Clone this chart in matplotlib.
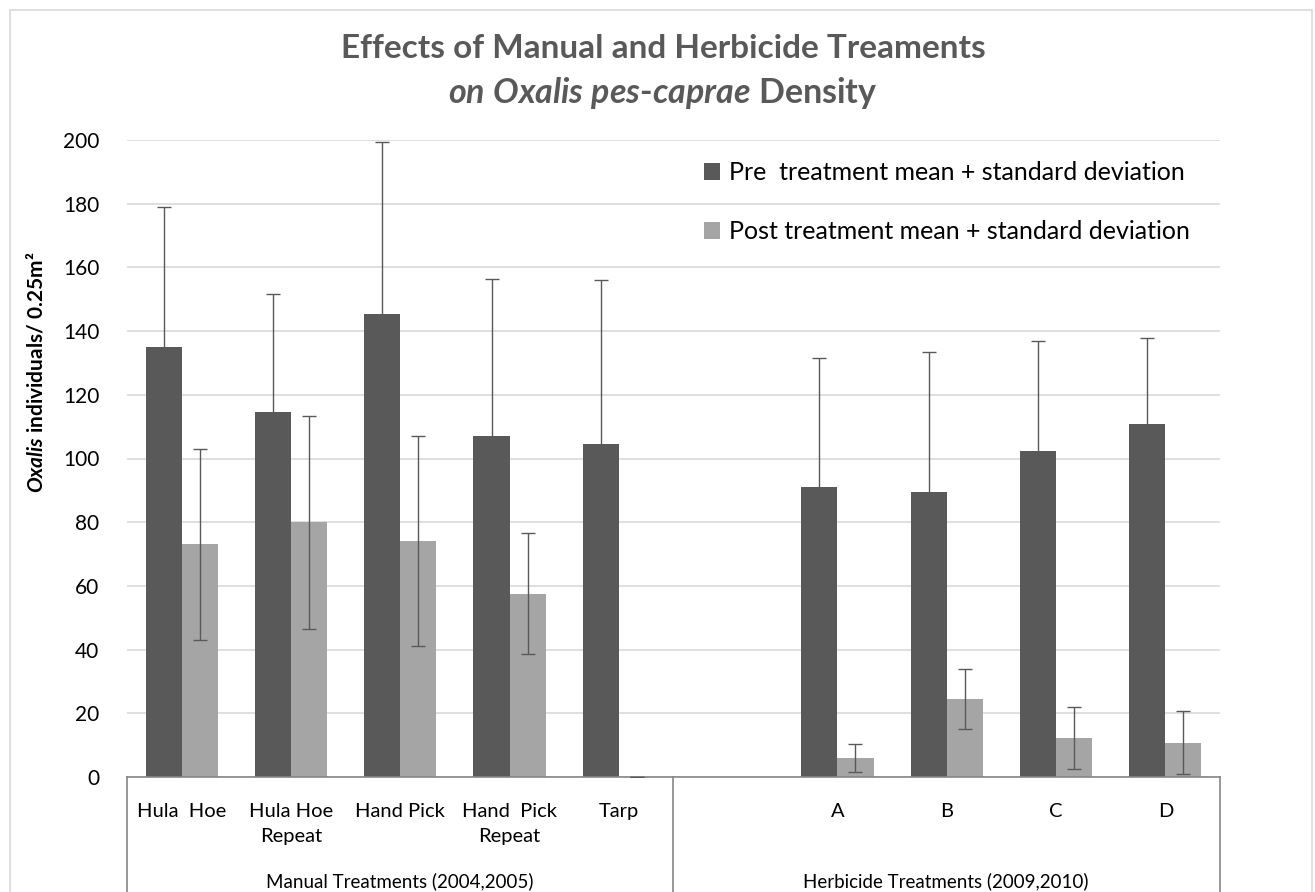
import numpy as np
import matplotlib
matplotlib.use("Agg")
import matplotlib.pyplot as plt
from matplotlib.patches import Rectangle

plt.rcParams['font.family'] = ['Lato', 'DejaVu Sans']
plt.rcParams['mathtext.fontset'] = 'custom'
plt.rcParams['mathtext.rm'] = 'Lato:bold'
plt.rcParams['mathtext.bfit'] = 'Lato:italic:bold'

categories = ["Hula  Hoe", "Hula Hoe\nRepeat", "Hand Pick", "Hand  Pick\nRepeat", "Tarp",
              "", "A", "B", "C", "D"]
groups = ["Manual Treatments (2004,2005)", "Herbicide Treatments (2009,2010)"]
pre_mean = [135, 114.5, 145.3, 107, 104.5, np.nan, 91, 89.5, 102.5, 110.7]
pre_sd = [44, 37, 54, 49.5, 51.5, np.nan, 40.5, 44, 34.5, 27]
post_mean = [73, 80, 74, 57.5, 0, np.nan, 6, 24.5, 12.3, 10.8]
post_sd = [30, 33.5, 33, 19, 0, np.nan, 4.5, 9.5, 9.7, 10]

W, H = 1315, 892
fig = plt.figure(figsize=(W / 100, H / 100), dpi=100)
ax = fig.add_axes([127 / W, 1 - 777 / H, (1220 - 127) / W, (777 - 140) / H])

x = np.arange(len(categories))
w = 0.33
pre_c = "#595959"
post_c = "#a5a5a5"
ax.bar(x - w / 2, pre_mean, w, color=pre_c, label="Pre  treatment mean + standard deviation", zorder=2)
ax.bar(x + w / 2, post_mean, w, color=post_c, label="Post treatment mean + standard deviation", zorder=2)
ax.errorbar(x - w / 2, pre_mean, yerr=pre_sd, fmt="none", ecolor="#595959", elinewidth=1,
            capsize=5, capthick=1, zorder=3)
ax.errorbar(x + w / 2, post_mean, yerr=post_sd, fmt="none", ecolor="#595959", elinewidth=1,
            capsize=5, capthick=1, zorder=3)

ax.set_xlim(-0.5, len(categories) - 0.5)
ax.set_ylim(0, 200)
ax.set_yticks(range(0, 201, 20))
ax.yaxis.grid(True, color="#d9d9d9", lw=1.2, zorder=0)
ax.set_axisbelow(True)
for s in ["top", "right", "left"]:
    ax.spines[s].set_visible(False)
ax.spines["bottom"].set_color("#868686")
ax.spines["bottom"].set_linewidth(1.2)
ax.tick_params(axis="y", length=0, pad=20, labelsize=15)
ax.set_xticks(x)
ax.set_xticklabels(categories, fontsize=14.5, linespacing=1.55)
ax.tick_params(axis="x", length=0, pad=19)

# multi-level axis divider lines
for xv in [127, 673, 1220]:
    fig.add_artist(plt.Line2D([xv / W, xv / W], [1 - 777 / H, 0], color="#868686", lw=1.2))

fig.text(400 / W, 1 - 881 / H, groups[0], ha="center", va="center", fontsize=13.5)
fig.text(946 / W, 1 - 881 / H, groups[1], ha="center", va="center", fontsize=13.5)

# titles
fig.text(663 / W, 1 - 48 / H, "Effects of Manual and Herbicide Treaments", ha="center", va="center",
         fontsize=24, fontweight="bold", color="#595959")
fig.text(663 / W, 1 - 93 / H,
         r"$\mathbfit{on}$ $\mathbfit{Oxalis}$ $\mathbfit{pes}$-$\mathbfit{caprae}$ Density",
         ha="center", va="center", fontsize=24.5, fontweight="bold", color="#595959")

fig.text(36 / W, 1 - 372 / H, r"$\mathbfit{Oxalis}$ individuals/ 0.25m²", rotation=90,
         ha="center", va="center", fontsize=15, fontweight="bold")

fig.legend(loc="upper left", bbox_to_anchor=(704 / W, 1 - 161 / H), frameon=False, fontsize=18,
           handlelength=0.65, handleheight=0.65, handletextpad=0.35, labelspacing=1.45,
           borderpad=0, borderaxespad=0)

fig.add_artist(Rectangle((10 / W, -0.1), (1312 - 10) / W, 1 - 10 / H + 0.1, fill=False,
                         edgecolor="#d9d9d9", lw=1.2, transform=fig.transFigure))

fig.savefig("out.png", dpi=100)
